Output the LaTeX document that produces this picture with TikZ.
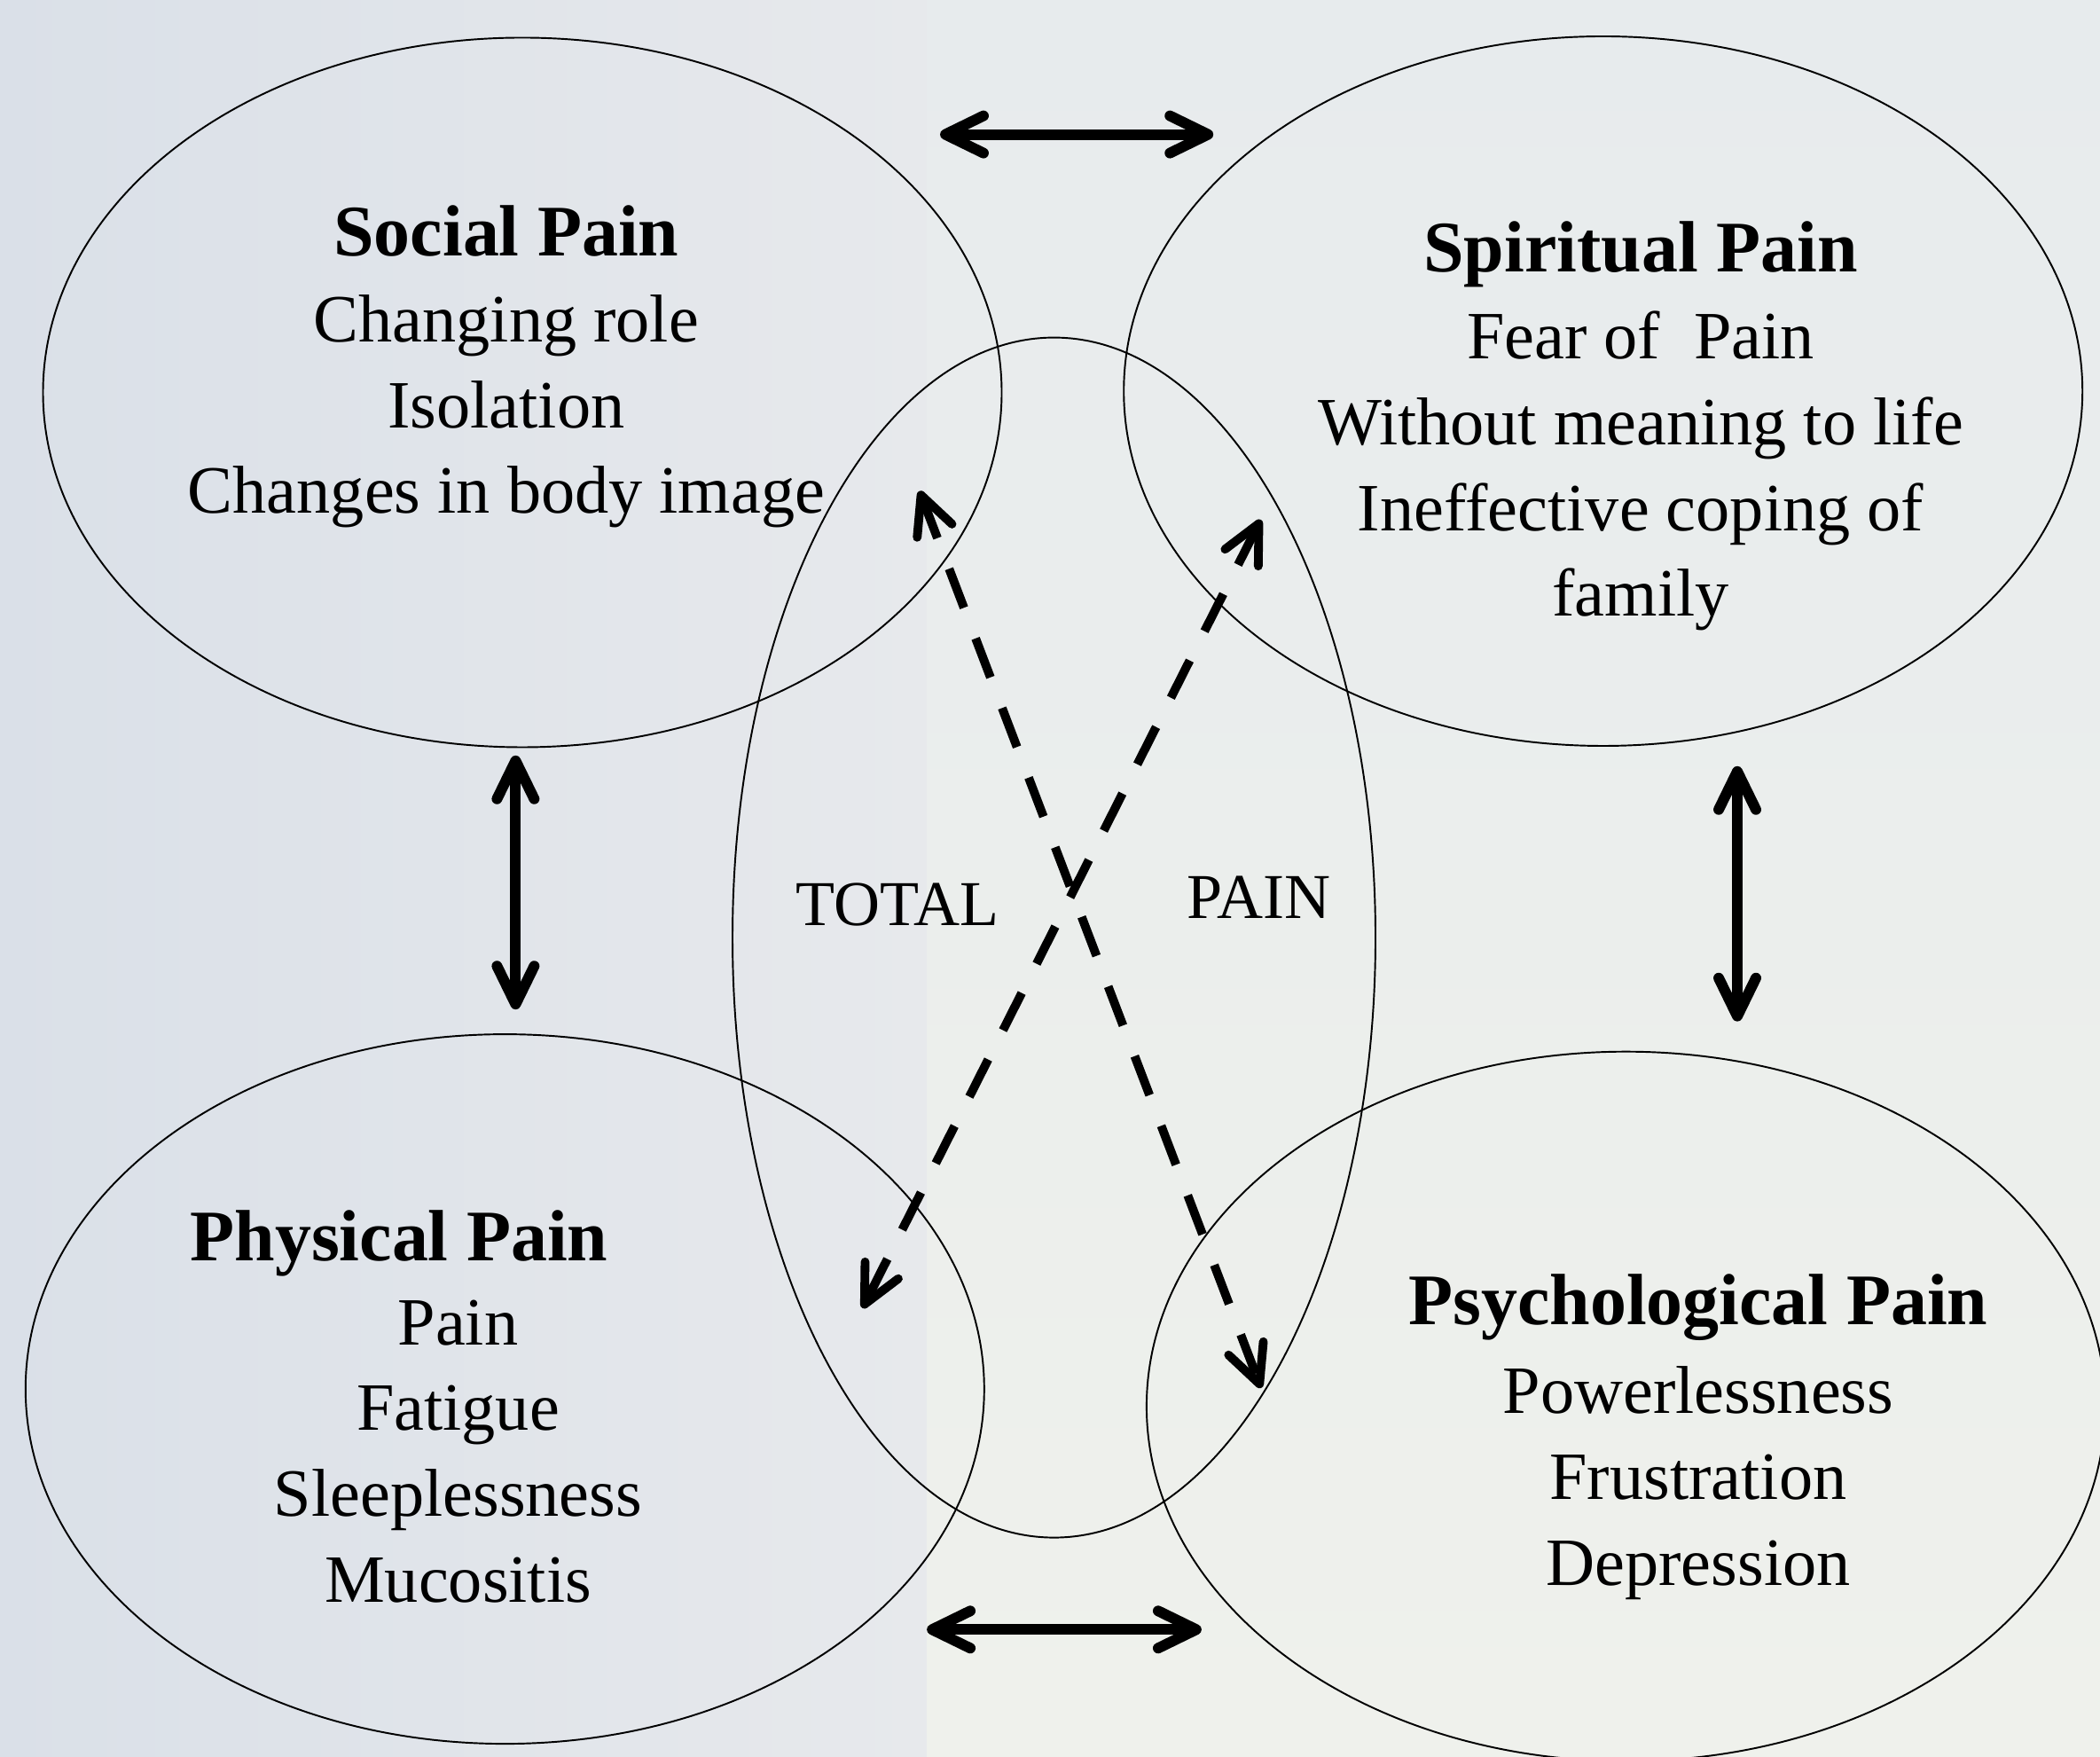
\documentclass[tikz,border=0pt]{standalone}
\usepackage{fontspec}
\setmainfont{Liberation Serif}
\usetikzlibrary{shapes.geometric,arrows.meta}

\definecolor{bgedge}{RGB}{218,224,232}
\definecolor{bgleft}{RGB}{231,233,236}
\definecolor{bgtop}{RGB}{231,235,237}
\definecolor{bgright}{RGB}{239,241,236}

\tikzset{
    pain area/.style={draw, line width=0.55pt, ellipse, minimum width=10.81cm, minimum height=8cm, inner sep=0pt},
    area title/.style={font=\fontsize{23.3}{28}\selectfont\bfseries, anchor=base},
    area list/.style={font=\fontsize{21.7}{27.5}\selectfont, align=center},
    total word/.style={font=\fontsize{20.5}{24}\selectfont, anchor=base},
    link/.style={{Straight Barb[round, length=4.3mm, width=4.2mm]}-{Straight Barb[round, length=4.3mm, width=4.2mm]}, line width=3.4pt},
    cross link/.style={link, line width=2.8pt, dash pattern=on 4.7mm off 3.7mm}
}

\begin{document}
\begin{tikzpicture}
    % Background panels
    \clip (0,0) rectangle (23.68,19.80);
    \shade[left color=bgedge, right color=bgleft] (0,0) rectangle (10.45,19.80);
    \shade[top color=bgtop, bottom color=bgright] (10.45,0) rectangle (23.68,19.80);

    % The four kinds of pain and the total pain in the middle
    \node[pain area] (social) at (5.890,15.375) {};
    \node[pain area] (spiritual) at (18.077,15.390) {};
    \node[pain area] (physical) at (5.693,4.139) {};
    \node[pain area] (psycho) at (18.334,3.943) {};
    \node[pain area, minimum width=7.25cm, minimum height=13.53cm] (total) at (11.885,9.229) {};

    % Texts
    \node[area title] (socialtitle) at (5.709,16.915) {Social Pain};
    \node[area list] (sociallist) at (5.709,15.161) {Changing role\\Isolation\\Changes in body image};
    \node[area title] (spiritualtitle) at (18.500,16.734) {Spiritual Pain};
    \node[area list] (spirituallist) at (18.500,14.489) {Fear of\ \ Pain\\Without meaning to life\\Ineffective coping of\\family};
    \node[area title] (physicaltitle) at (4.500,5.589) {Physical Pain};
    \node[area list] (physicallist) at (5.165,3.437) {Pain\\Fatigue\\Sleeplessness\\Mucositis};
    \node[area title] (psychotitle) at (19.149,4.864) {Psychological Pain};
    \node[area list] (psycholist) at (19.149,3.079) {Powerlessness\\Frustration\\Depression};
    \node[total word] (totalword) at (10.118,9.365) {TOTAL};
    \node[total word] (painword) at (14.196,9.440) {PAIN};

    % Arrow ends
    \coordinate (top-l) at (10.600,18.284);
    \coordinate (top-r) at (13.682,18.284);
    \coordinate (left-t) at (5.814,11.282);
    \coordinate (left-b) at (5.814,8.418);
    \coordinate (right-t) at (19.590,11.162);
    \coordinate (right-b) at (19.590,8.283);
    \coordinate (bottom-l) at (10.451,1.427);
    \coordinate (bottom-r) at (13.549,1.427);
    \coordinate (cross-a1) at (10.368,14.264);
    \coordinate (cross-a2) at (14.220,4.150);
    \coordinate (cross-b1) at (14.217,13.940);
    \coordinate (cross-b2) at (9.726,5.050);

    % Links between the kinds of pain
    \draw[link] (top-l) -- (top-r);
    \draw[link] (left-t) -- (left-b);
    \draw[link] (right-t) -- (right-b);
    \draw[link] (bottom-l) -- (bottom-r);
    \draw[cross link] (cross-a1) -- (cross-a2);
    \draw[cross link] (cross-b1) -- (cross-b2);
\end{tikzpicture}
\end{document}
